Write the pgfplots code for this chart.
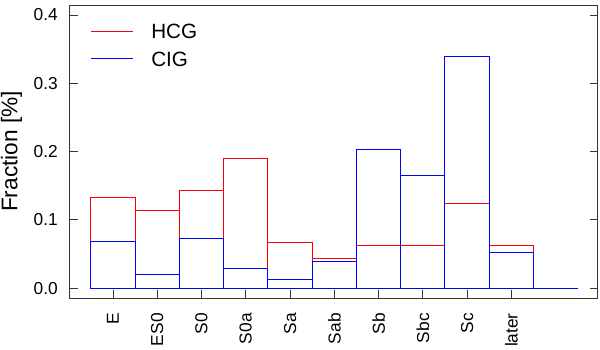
\documentclass[border=0pt]{standalone}
\usepackage{fontspec}
\setmainfont{Liberation Sans}
\usepackage{pgfplots}
\pgfplotsset{compat=1.18}

\begin{document}
\begin{tikzpicture}
\begin{axis}[
  scale only axis,
  width=395.8pt, height=219.75pt,
  xmin=0.03, xmax=11.95,
  ymin=-0.0146, ymax=0.4146,
  axis line style={black!80, line width=0.75pt},
  tick align=inside,
  major tick length=6pt,
  tick style={black!80, line width=0.6pt},
  xtick pos=lower,
  ytick pos=both,
  xtick={1,...,10},
  xticklabels={E,ES0,S0,S0a,Sa,Sab,Sb,Sbc,Sc,later},
  xticklabel style={rotate=90, anchor=east, inner sep=0pt, font=\fontsize{13}{15}\selectfont},
  xticklabel shift=11.25pt,
  ytick={0,0.1,0.2,0.3,0.4},
  yticklabel style={inner sep=0pt, font=\fontsize{13}{15}\selectfont,
    /pgf/number format/.cd, fixed, fixed zerofill, precision=1, assume math mode=true},
  yticklabel shift=9pt,
  ylabel={Fraction [\%]},
  ylabel style={at={(axis description cs:-0.111,0.5)}, anchor=center, font=\fontsize{17}{19}\selectfont},
  legend style={draw=none, fill=none, at={(0,1)}, anchor=north west,
    xshift=15pt, yshift=-14pt, inner sep=0pt,
    font=\fontsize{15.5}{18}\selectfont,
    nodes={inner sep=0pt, text height=11pt, text depth=0pt},
    column sep=13.5pt, row sep=9.7pt},
  legend cell align=left,
  legend image code/.code={\draw[#1] (0pt,0pt) -- (31.5pt,0pt);},
]
% HCG
\addplot[ybar, bar width=1, draw=red, fill=none, line width=0.75pt, forget plot]
  coordinates {(1,0.133)(2,0.114)(3,0.143)(4,0.190)(5,0.067)(6,0.043)
               (7,0.062)(8,0.062)(9,0.124)(10,0.062)(11,0)};
% CIG
\addplot[ybar, bar width=1, draw=blue, fill=none, line width=0.75pt, forget plot]
  coordinates {(1,0.068)(2,0.020)(3,0.072)(4,0.029)(5,0.013)(6,0.039)
               (7,0.203)(8,0.165)(9,0.339)(10,0.052)(11,0)};
\addlegendimage{red, line width=0.75pt}
\addlegendentry{HCG}
\addlegendimage{blue, line width=0.75pt}
\addlegendentry{CIG}
\end{axis}
\pgfresetboundingbox
\path (-52.5pt,-39pt) rectangle (397.5pt,223.5pt);
\end{tikzpicture}
\end{document}
